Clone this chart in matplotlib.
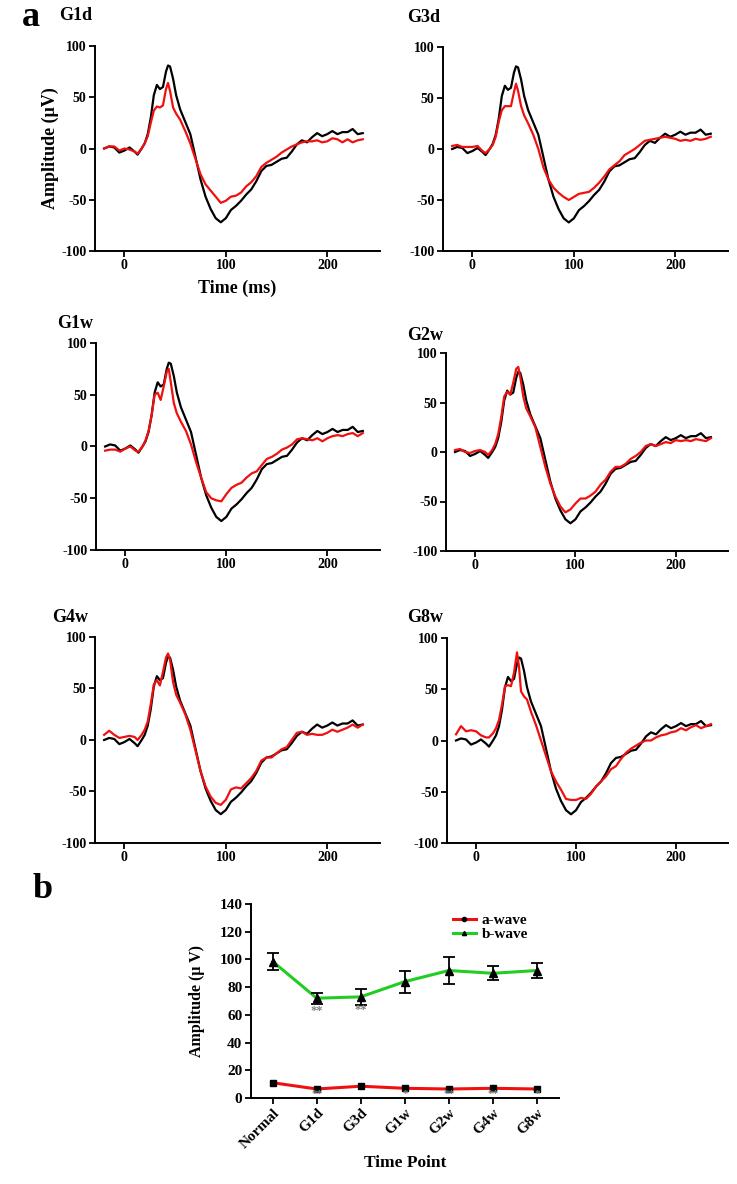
import matplotlib
matplotlib.use("Agg")
import matplotlib.pyplot as plt
import numpy as np
from matplotlib.lines import Line2D

plt.rcParams['font.family'] = ['Liberation Serif', 'DejaVu Serif']
plt.rcParams['font.weight'] = 'bold'
plt.rcParams['axes.unicode_minus'] = False

W, H = 737, 1184

# ---------------- data: panel a ----------------
time_ms = [-20, -15, -10, -5, 0, 5, 10, 13, 17, 20, 23, 26, 29, 32, 35, 38, 41, 43, 45, 48,
           51, 55, 60, 65, 70, 75, 80, 85, 90, 95, 100, 105, 110, 115, 120, 125, 130, 135,
           140, 145, 150, 155, 160, 165, 170, 175, 180, 185, 190, 195, 200, 205, 210, 215,
           220, 225, 230, 235]

normal = [0, 2, 1, -4, -2, 1, -3, -6, 0, 5, 14, 30, 52, 62, 58, 60, 75, 81, 80, 68,
          52, 38, 26, 14, -8, -30, -47, -59, -68, -72, -68, -60, -56, -51, -45, -40, -32, -22,
          -17, -16, -13, -10, -9, -3, 4, 8, 6, 11, 15, 12, 14, 17, 14, 16,
          16, 19, 14, 15]

g1d = [0, 2, 2, -2, 0, -1, -3, -5, 0, 5, 12, 25, 37, 41, 40, 42, 58, 64, 56, 40,
       34, 28, 17, 5, -10, -25, -35, -41, -47, -53, -51, -47, -46, -43, -37, -33, -27, -18,
       -14, -11, -8, -4, -1, 2, 4, 6, 7, 7, 8, 6, 7, 10, 9, 6,
       9, 6, 8, 9]

g3d = [3, 4, 2, 2, 2, 3, -2, -4, 0, 4, 12, 27, 38, 42, 42, 42, 56, 64, 57, 42,
       33, 25, 14, 0, -18, -30, -38, -43, -47, -50, -47, -44, -43, -42, -38, -33, -27, -20,
       -16, -12, -6, -3, 0, 4, 8, 9, 10, 11, 12, 11, 10, 8, 9, 8,
       10, 9, 10, 12]

g1w = [-4, -3, -3, -5, -2, 0, -4, -5, 0, 6, 15, 30, 50, 52, 45, 58, 72, 75, 62, 42,
       32, 24, 15, 2, -15, -30, -44, -50, -52, -53, -46, -40, -37, -35, -30, -26, -24, -18,
       -12, -10, -7, -3, -1, 2, 7, 8, 7, 6, 8, 5, 8, 10, 11, 10,
       12, 13, 10, 13]

g2w = [2, 3, 0, -1, 1, 2, 0, -3, 2, 8, 18, 35, 56, 61, 58, 70, 84, 86, 76, 56,
       44, 36, 25, 5, -15, -32, -45, -55, -61, -58, -52, -47, -47, -44, -40, -33, -28, -20,
       -15, -15, -12, -7, -4, 0, 6, 8, 6, 8, 10, 9, 12, 11, 12, 11,
       13, 12, 11, 14]

g4w = [5, 9, 5, 2, 3, 4, 3, 0, 5, 10, 18, 35, 54, 58, 53, 66, 80, 84, 78, 56,
       44, 36, 25, 10, -10, -30, -45, -55, -61, -63, -58, -48, -46, -47, -42, -37, -30, -20,
       -17, -17, -13, -9, -7, 0, 7, 8, 5, 6, 5, 5, 7, 10, 8, 10,
       12, 15, 12, 15]

g8w = [6, 14, 9, 10, 9, 5, 3, 3, 7, 12, 20, 35, 53, 54, 53, 66, 86, 72, 48, 43,
       40, 28, 15, 0, -15, -30, -40, -48, -57, -58, -58, -56, -57, -52, -45, -40, -35, -28,
       -25, -18, -12, -8, -5, -2, 0, 0, 3, 5, 6, 8, 9, 12, 10, 13,
       15, 12, 14, 16]

panel_titles = ['G1d', 'G3d', 'G1w', 'G2w', 'G4w', 'G8w']
panel_series = [g1d, g3d, g1w, g2w, g4w, g8w]

# ---------------- data: panel b ----------------
time_points = ['Normal', 'G1d', 'G3d', 'G1w', 'G2w', 'G4w', 'G8w']
a_wave = [11, 6.5, 8.5, 7, 6.5, 7, 6.5]
a_err = [0.8, 1.0, 1.5, 1.5, 1.5, 1.0, 1.5]
b_wave = [98.5, 72, 73, 84, 92, 90, 92]
b_err = [6, 4, 6, 8, 10, 5, 5.5]
b_sig = ['', '**', '**', '', '', '', '']
a_sig = ['', '**', '', '*', '**', '**', '*']

fig = plt.figure(figsize=(W / 100, H / 100), dpi=100)


def ax_px(l, t, r, b):
    return fig.add_axes([l / W, 1 - b / H, (r - l) / W, (b - t) / H])


def style_axes(ax, fs=10):
    for s in ['top', 'right']:
        ax.spines[s].set_visible(False)
    for s in ['left', 'bottom']:
        ax.spines[s].set_linewidth(1.4)
    ax.tick_params(direction='out', length=4, width=1.3, labelsize=fs, pad=2)
    for lab in ax.get_xticklabels() + ax.get_yticklabels():
        lab.set_fontweight('bold')


boxes = [(95, 46, 380, 251), (443, 47, 728, 251),
         (96, 343, 380, 550), (446, 353, 728, 551),
         (95, 637, 380, 843), (447, 638, 728, 843)]
title_pos = [(59, 16), (407, 17), (57, 323), (407, 335), (52, 617), (407, 617)]

for i, (box, ttl, red) in enumerate(zip(boxes, panel_titles, panel_series)):
    ax = ax_px(*box)
    ax.plot(time_ms, normal, color='black', lw=1.6)
    ax.plot(time_ms, red, color='#f01010', lw=1.6)
    ax.set_xlim(-29, 252)
    ax.set_ylim(-100, 100)
    ax.set_xticks([0, 100, 200])
    ax.set_yticks([-100, -50, 0, 50, 100])
    style_axes(ax, fs=10)
    fig.text(title_pos[i][0] / W, 1 - title_pos[i][1] / H, ttl, fontsize=13,
             fontweight='bold', ha='left', va='center')
    if i == 0:
        ax.set_ylabel('Amplitude (μV)', fontsize=13, fontweight='bold', labelpad=2)
        ax.set_xlabel('Time (ms)', fontsize=13, fontweight='bold', labelpad=5)

fig.text(22 / W, 1 - 17 / H, 'a', fontsize=26, fontweight='bold', ha='left', va='center')
fig.text(33 / W, 1 - 890 / H, 'b', fontsize=26, fontweight='bold', ha='left', va='center')

# ---------------- panel b ----------------
axb = ax_px(250.7, 904, 559, 1098)
x = np.arange(len(time_points))
axb.plot(x, a_wave, color='#f01010', lw=2.2, zorder=2)
axb.errorbar(x, a_wave, yerr=a_err, fmt='s', color='black', ms=4, capsize=2,
             elinewidth=1, zorder=3)
axb.plot(x, b_wave, color='#22cc22', lw=2.2, zorder=2)
axb.errorbar(x, b_wave, yerr=b_err, fmt='^', color='black', ms=6, capsize=4,
             elinewidth=1.3, capthick=1.3, zorder=3)
for xi, s, v in zip(x, b_sig, b_wave):
    if s:
        axb.text(xi, v - 9.5, s, ha='center', va='center', fontsize=9, color='#808080')
for xi, s in zip(x, a_sig):
    if s:
        axb.text(xi, 2.8, s, ha='center', va='center', fontsize=8, color='#808080', zorder=4)
axb.set_xlim(-0.5, 6.5)
axb.set_ylim(0, 140)
axb.set_yticks(np.arange(0, 141, 20))
axb.set_xticks(x)
axb.set_xticklabels(time_points, rotation=45, ha='right', rotation_mode='anchor')
style_axes(axb, fs=11)
axb.set_ylabel('Amplitude (μ V)', fontsize=11.5, fontweight='bold', labelpad=10)
axb.set_xlabel('Time Point', fontsize=12.5, fontweight='bold', labelpad=3)

handles = [Line2D([], [], color='#f01010', lw=2.2, marker='o', ms=3, mfc='black', mec='black'),
           Line2D([], [], color='#22cc22', lw=2.2, marker='^', ms=3, mfc='black', mec='black')]
leg = axb.legend(handles, ['a-wave', 'b-wave'], loc='upper right', frameon=False,
                 fontsize=11, handlelength=1.5, borderaxespad=0.2,
                 bbox_to_anchor=(0.93, 1.0), labelspacing=0.05, handletextpad=0.4)
for t in leg.get_texts():
    t.set_fontweight('bold')

fig.savefig('out.png', dpi=100)
